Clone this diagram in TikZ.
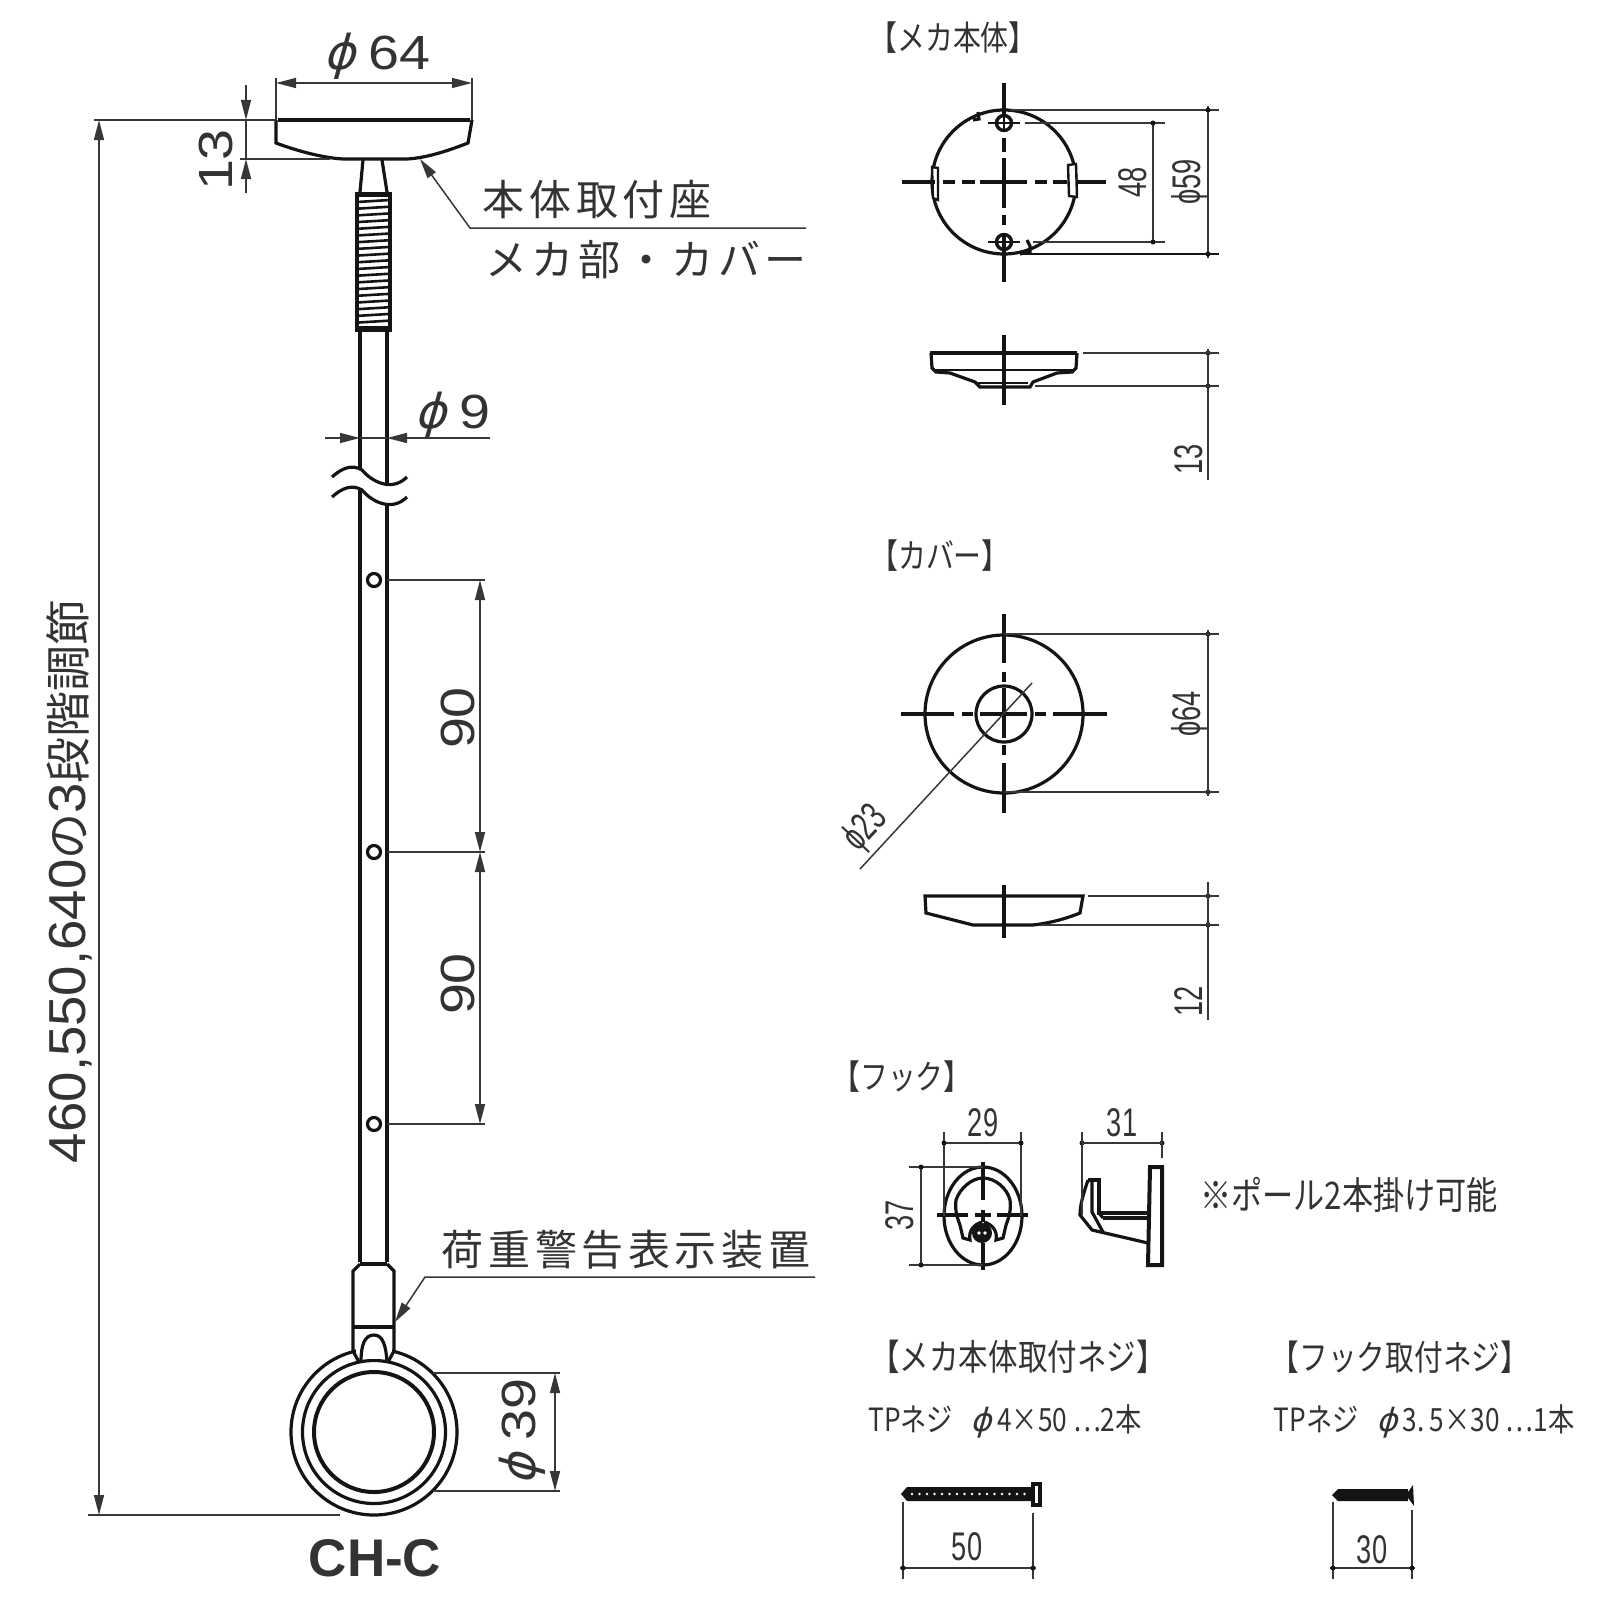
\documentclass[tikz,border=0pt]{standalone}
\usepackage{fontspec}
\usetikzlibrary{arrows.meta}
\setmainfont{Liberation Sans}
\newfontfamily\jpfont[LetterSpace=11]{Noto Sans CJK JP}
\newfontfamily\jpplain{Noto Sans CJK JP}
\newfontfamily\jpsmall[FakeStretch=0.82]{Noto Sans CJK JP}
\newfontfamily\diafont[FakeSlant=0.28]{DejaVu Sans}
\newfontfamily\tallfont[FakeStretch=0.68]{Liberation Sans}
\newfontfamily\widefont[FakeStretch=1.16]{Liberation Sans}
\newfontfamily\longfont[FakeStretch=1.05]{Liberation Sans}
\newcommand{\dia}{{\diafont ϕ}}
\definecolor{inkc}{HTML}{141414}
\definecolor{textc}{HTML}{333333}
\tikzset{
    part/.style={line width=1.6pt,draw=inkc},
    dimline/.style={line width=0.75pt,draw=inkc!85},
    centerline/.style={line width=1.6pt,draw=inkc},
    dimarrow/.style={dimline,{Triangle[length=10pt,width=5pt]}-{Triangle[length=10pt,width=5pt]}},
    endarrow/.style={dimline,-{Triangle[length=10pt,width=5pt]}},
    biglabel/.style={inner sep=0,text=textc,font=\fontsize{24}{24}\selectfont},
    jplabel/.style={inner sep=0,text=textc,font=\jpfont\fontsize{21}{21}\selectfont},
    headlabel/.style={inner sep=0,text=textc,font=\jpsmall\fontsize{17}{17}\selectfont},
    speclabel/.style={inner sep=0,text=textc,font=\jpsmall\fontsize{16}{16}\selectfont},
    smalllabel/.style={inner sep=0,text=textc,font=\tallfont\fontsize{20}{20}\selectfont}
}
\begin{document}
\begin{tikzpicture}[x=0.5pt,y=-0.5pt]
    \useasboundingbox (0,0) rectangle (1600,1600);

    % pole: seat
    \draw[part] (276,120) -- (276,143) .. controls (300,152) and (325,158) .. (343,159) -- (407,159) .. controls (425,158) and (445,152) .. (468,143) -- (472,120);
    \draw[line width=2.2pt,inkc] (278,120) -- (470,120);
    \draw[part] (363,160) -- (360,192);
    \draw[part] (382,160) -- (387,192);

    % pole: thread
    \fill[inkc] (356,192) rectangle (391,197);
    \fill[inkc] (356,326) rectangle (391,332);
    \draw[line width=1.7pt,inkc] (357,192) -- (357,332);
    \draw[line width=1.7pt,inkc] (390,192) -- (390,332);
    \foreach \i in {0,...,18}
        \draw[line width=1.3pt,inkc] (357,202+6.7*\i) -- (390,200+6.7*\i);

    % pole: rod with break
    \draw[part] (360,332) -- (360,469);
    \draw[part] (387,332) -- (387,486);
    \draw[part] (360,489) -- (360,1262);
    \draw[part] (387,506) -- (387,1262);
    \draw[part] (332,477) .. controls (342,468) and (352,464) .. (362,470) .. controls (372,482) and (392,492) .. (407,477);
    \draw[part] (332,497) .. controls (342,488) and (352,484) .. (362,490) .. controls (372,502) and (392,512) .. (407,497);

    % pole: holes
    \foreach \ypos in {580,852,1124}
        \draw[line width=1.6pt,inkc,fill=white] (374,\ypos) circle (6.5);

    % pole: collar and ring
    \draw[line width=2pt,inkc] (360,1264) -- (387,1264);
    \draw[part] (360,1264) -- (353,1271) -- (353,1351);
    \draw[part] (387,1264) -- (394,1271) -- (394,1351);
    \draw[line width=2pt,inkc] (353,1327) -- (394,1327);
    \draw[line width=1.6pt,inkc] (374,1432) circle (83);
    \draw[part] (374,1432) circle (71.5);
    \draw[line width=2pt,inkc] (374,1432) circle (60);
    \fill[white] (356,1345) rectangle (392,1359);
    \draw[part] (353,1351) -- (359,1362);
    \draw[part] (394,1351) -- (388,1362);
    \draw[part] (361,1362) .. controls (361,1346) and (364,1335) .. (374,1335) .. controls (383,1335) and (386,1346) .. (387,1362);

    % pole: dimensions
    \draw[dimline] (276,120) -- (94,120);
    \draw[dimline] (88,1515) -- (340,1515);
    \draw[dimarrow] (99,120) -- (99,1515);
    \draw[dimline] (276,78) -- (276,120);
    \draw[dimline] (472,78) -- (472,120);
    \draw[dimarrow] (276,83) -- (472,83);
    \draw[dimline] (240,159) -- (330,159);
    \draw[endarrow] (246,85) -- (246,120);
    \draw[endarrow] (246,193) -- (246,159);
    \draw[dimline] (246,120) -- (246,159);
    \draw[endarrow] (325,438) -- (360,438);
    \draw[endarrow] (490,438) -- (387,438);
    \draw[dimline] (360,438) -- (387,438);
    \draw[dimline] (387,580) -- (485,580);
    \draw[dimline] (387,852) -- (485,852);
    \draw[dimline] (387,1124) -- (485,1124);
    \draw[dimarrow] (480,580) -- (480,852);
    \draw[dimarrow] (480,852) -- (480,1124);
    \draw[dimline] (433,1373) -- (560,1373);
    \draw[dimline] (433,1491) -- (560,1491);
    \draw[dimarrow] (555,1373) -- (555,1491);

    % pole: leaders
    \coordinate (seattip) at (420,159);
    \coordinate (seatbend) at (470,228);
    \coordinate (seatend) at (806,228);
    \draw[dimline,{Triangle[length=10pt,width=5pt]}-] (seattip) -- (seatbend) -- (seatend);
    \coordinate (warntip) at (395,1322);
    \coordinate (warnbend) at (425,1277);
    \coordinate (warnend) at (815,1277);
    \draw[dimline,{Triangle[length=10pt,width=5pt]}-] (warntip) -- (warnbend) -- (warnend);

    % pole: labels
    \node[biglabel] (dia64) at (377,56) {\dia\ {\widefont 64}};
    \node[biglabel,rotate=90] (h13) at (216,160) {{\widefont 13}};
    \node[jplabel] (seatlabel) at (597,200) {本体取付座};
    \node[jplabel] (coverlabel) at (646,260) {メカ部・カバー};
    \node[biglabel] (dia9) at (452,415) {\dia\ {\widefont 9}};
    \node[biglabel,rotate=90] (gap1) at (458,718) {{\widefont 90}};
    \node[biglabel,rotate=90] (gap2) at (458,984) {{\widefont 90}};
    \node[biglabel,rotate=90] (dia39) at (522,1432) {\dia\ {\widefont 39}};
    \node[jplabel] (warnlabel) at (626,1250) {荷重警告表示装置};
    \node[inner sep=0,text=textc,rotate=90,font=\fontsize{26}{26}\selectfont] (length) at (69,881) {{\longfont 460,550,640}{\jpplain\fontsize{23}{23}\selectfont の}{\longfont 3}{\jpplain\fontsize{23}{23}\selectfont 段階調節}};
    \node[inner sep=0,text=textc,font=\fontsize{26.5}{26.5}\selectfont\bfseries] (model) at (375,1558) {CH-C};

    % mech body: top view
    \node[headlabel] (mechhead) at (953,38) {【メカ本体】};
    \draw[part] (1004,182) circle (72);
    \draw[part] (978,112) -- (979,119) -- (973,120);
    \draw[part] (1027,240) -- (1030,246) -- (1030,252) -- (1020,254);
    \draw[line width=1.2pt,inkc,fill=white] (932,167) -- (938,168) -- (938,200) -- (933,198) -- cycle;
    \draw[line width=1.2pt,inkc,fill=white] (1068,165) -- (1076,164) -- (1077,197) -- (1069,196) -- cycle;
    \foreach \a/\b in {902/935,943/955,962/975,980/1027,1035/1047,1053/1067,1077/1106}
        \draw[centerline] (\a,182) -- (\b,182);
    \foreach \a/\b in {83/115,138/152,158/208,215/225,233/282}
        \draw[centerline] (1004,\a) -- (1004,\b);
    \foreach \ypos in {123,242} {
        \draw[line width=1.7pt,inkc] (1004,\ypos) circle (7.5);
        \draw[line width=1pt,inkc] (988,\ypos) -- (1020,\ypos);
        \draw[line width=1pt,inkc] (1004,\ypos-9) -- (1004,\ypos+9);
    }
    \draw[dimline] (1010,110) -- (1219,110);
    \draw[line width=1pt,inkc] (1020,254) -- (1219,254);
    \draw[dimline] (1208,106) -- (1208,258);
    \draw[dimline] (1025,123) -- (1165,123);
    \draw[dimline] (1033,242) -- (1165,242);
    \draw[dimline] (1153,123) -- (1153,242);
    \foreach \xpos/\ypos in {1153/123,1153/242,1208/110,1208/254,1208/353,1208/386,1208/634,1208/792,1208/896,1208/925}
        \fill[inkc] (\xpos,\ypos) circle (2.5);
    \node[smalllabel,rotate=90] (pitch48) at (1133,182) {48};
    \node[smalllabel,rotate=90] (dia59) at (1190,182) {ϕ59};

    % mech body: side view
    \draw[line width=2pt,inkc] (930,353) -- (1077,353);
    \draw[part] (931,353) -- (932,368) -- (936,372) -- (950,373) -- (975,382) -- (980,387) -- (1030,387) -- (1033,382) -- (1057,373) -- (1072,372) -- (1076,368) -- (1077,353);
    \draw[line width=1.2pt,inkc] (933,370) -- (1074,370);
    \draw[line width=1pt,inkc] (978,383) -- (1028,383);
    \draw[centerline] (1004,335) -- (1004,405);
    \draw[dimline] (1083,353) -- (1219,353);
    \draw[dimline] (1035,386) -- (1219,386);
    \draw[dimline] (1208,349) -- (1208,480);
    \node[smalllabel,rotate=90] (h13b) at (1189,459) {13};

    % cover: top view
    \node[headlabel] (coverhead) at (940,556) {【カバー】};
    \draw[part] (1004,714) circle (79);
    \draw[part] (1004,714) circle (28);
    \foreach \a/\b in {901/954,962/973,980/1027,1035/1046,1053/1107}
        \draw[centerline] (\a,714) -- (\b,714);
    \foreach \a/\b in {614/663,672/682,688/738,745/755,763/813}
        \draw[centerline] (1004,\a) -- (1004,\b);
    \draw[dimline] (1004,634) -- (1219,634);
    \draw[dimline] (1004,792) -- (1219,792);
    \draw[dimline] (1208,630) -- (1208,796);
    \draw[dimline] (1032,683) -- (860,869);
    \node[smalllabel,rotate=90] (dia64b) at (1190,714) {ϕ64};
    \node[smalllabel,rotate=47] (dia23) at (866,829) {ϕ23};

    % cover: side view
    \draw[part] (925,896) -- (1083,896) -- (1080,913) .. controls (1065,919) and (1050,923) .. (1033,925) -- (973,925) -- (926,913) -- cycle;
    \draw[centerline] (1004,885) -- (1004,938);
    \draw[dimline] (1088,896) -- (1219,896);
    \draw[dimline] (1040,925) -- (1219,925);
    \draw[dimline] (1208,882) -- (1208,1020);
    \node[smalllabel,rotate=90] (h12) at (1189,1001) {12};

    % hook: front view
    \node[headlabel] (hookhead) at (902,1077) {【フック】};
    \draw[part] (983,1216) ellipse [x radius=39,y radius=49];
    \draw[part] (960,1225) .. controls (956,1215) and (955,1208) .. (956,1200) .. controls (960,1188) and (972,1178) .. (983,1178) .. controls (995,1178) and (1007,1188) .. (1010,1200) .. controls (1011,1208) and (1010,1215) .. (1006,1225);
    \draw[part] (960,1225) -- (963,1238) -- (970,1240) .. controls (968,1230) and (975,1224) .. (982,1222);
    \draw[part] (1006,1225) -- (1003,1238) -- (996,1240) .. controls (998,1230) and (991,1224) .. (984,1222);
    \fill[inkc] (982,1233) circle (10);
    \fill[white] (979,1233) circle (1.8);
    \fill[white] (985,1233) circle (1.8);
    \foreach \a/\b in {937/968,975/991,997/1028}
        \draw[centerline] (\a,1215) -- (\b,1215);
    \foreach \a/\b in {1162/1200,1210/1222,1243/1270}
        \draw[centerline] (983,\a) -- (983,\b);
    \draw[dimline] (944,1132) -- (944,1216);
    \draw[dimline] (1021,1132) -- (1021,1216);
    \draw[dimline] (944,1143) -- (1021,1143);
    \draw[dimline] (909,1167) -- (983,1167);
    \draw[dimline] (909,1265) -- (983,1265);
    \draw[dimline] (921,1167) -- (921,1265);
    \foreach \xpos/\ypos in {944/1143,1021/1143,921/1167,921/1265,1082/1143,1162/1143}
        \fill[inkc] (\xpos,\ypos) circle (2.5);
    \node[smalllabel] (w29) at (983,1123) {29};
    \node[smalllabel,rotate=90] (h37) at (900,1215) {37};

    % hook: side view
    \draw[line width=2pt,inkc] (1150,1167) -- (1162,1167) -- (1162,1265) -- (1148,1265) -- cycle;
    \draw[part] (1088,1180) -- (1099,1180) -- (1099,1213) -- (1149,1213);
    \draw[part] (1103,1218) -- (1149,1218);
    \draw[part] (1099,1213) -- (1103,1218);
    \draw[part] (1088,1180) .. controls (1083,1195) and (1080,1205) .. (1080,1215) -- (1092,1230) -- (1148,1243);
    \draw[part] (1092,1182) -- (1092,1212) -- (1103,1232);
    \draw[dimline] (1082,1132) -- (1082,1215);
    \draw[dimline] (1162,1132) -- (1162,1158);
    \draw[dimline] (1082,1143) -- (1162,1143);
    \node[smalllabel] (w31) at (1122,1123) {31};
    \node[headlabel,font=\jpsmall\fontsize{19}{19}\selectfont] (hooknote) at (1349,1195) {※ポール2本掛け可能};

    % screws
    \node[headlabel,font=\jpsmall\fontsize{18}{18}\selectfont] (mechscrew) at (1018,1357) {【メカ本体取付ネジ】};
    \node[headlabel,font=\jpsmall\fontsize{17.5}{17.5}\selectfont] (hookscrew) at (1400,1357) {【フック取付ネジ】};
    \node[speclabel] (mechspec) at (1005,1421) {TPネジ\ \ \ \dia\,4×50 ⋯2本};
    \node[speclabel] (hookspec) at (1424,1421) {TPネジ\ \ \ \dia\,3.\,5×30 ⋯1本};

    \fill[inkc] (901,1494) -- (907,1487) -- (1031,1487) -- (1031,1501) -- (907,1501) -- cycle;
    \draw[line width=2pt,inkc,fill=white] (1033,1484) rectangle (1040,1505);
    \foreach \i in {0,...,15}
        \fill[white] (912+7.5*\i,1494) circle (1.4);
    \draw[dimline] (903,1502) -- (903,1579);
    \draw[dimline] (1033,1513) -- (1033,1579);
    \draw[dimline] (900,1568) -- (1036,1568);
    \fill[inkc] (903,1568) circle (2.5);
    \fill[inkc] (1033,1568) circle (2.5);
    \node[smalllabel] (len50) at (967,1547) {50};

    \fill[inkc] (1332,1495) -- (1338,1489) -- (1408,1489) -- (1408,1501) -- (1338,1501) -- cycle;
    \fill[inkc] (1406,1495) -- (1413,1485) -- (1414,1506) -- cycle;
    \draw[dimline] (1333,1502) -- (1333,1579);
    \draw[dimline] (1412,1510) -- (1412,1579);
    \draw[dimline] (1330,1568) -- (1415,1568);
    \fill[inkc] (1333,1568) circle (2.5);
    \fill[inkc] (1412,1568) circle (2.5);
    \node[smalllabel] (len30) at (1372,1550) {30};
\end{tikzpicture}
\end{document}
